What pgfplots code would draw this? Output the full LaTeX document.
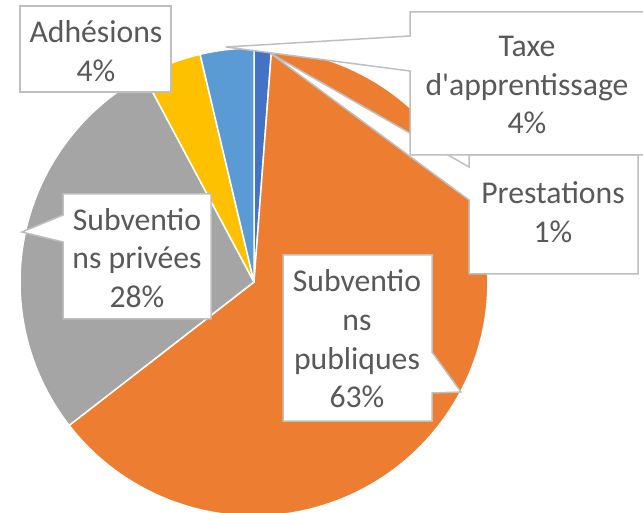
\documentclass[border=0pt]{standalone}
\usepackage{pgfplots}
\pgfplotsset{compat=1.18}
\usepackage{fontspec}
\setmainfont{Carlito}
\newfontfamily\calfont{Carlito}
\definecolor{cA}{HTML}{4472C4}
\definecolor{cB}{HTML}{ED7D31}
\definecolor{cC}{HTML}{A5A5A5}
\definecolor{cD}{HTML}{FFC000}
\definecolor{cE}{HTML}{5B9BD5}
\definecolor{txt}{HTML}{595959}
\definecolor{bx}{HTML}{BFBFBF}
% data (percent of total)
\def\vPrest{1.2}
\def\vPub{63.3}
\def\vPriv{27.7}
\def\vAdh{4.1}
\def\vTaxe{3.7}
\begin{document}
\begin{tikzpicture}
\pgfmathsetmacro\aA{3.6*\vPrest}
\pgfmathsetmacro\aB{\aA+3.6*\vPub}
\pgfmathsetmacro\aC{\aB+3.6*\vPriv}
\pgfmathsetmacro\aD{\aC+3.6*\vAdh}
\pgfmathsetmacro\aE{\aD+3.6*\vTaxe}
\begin{axis}[
  width=643pt, height=513pt, scale only axis,
  xmin=0, xmax=643, ymin=0, ymax=513, y dir=reverse,
  hide axis, clip=true,
  every axis plot/.append style={line width=1.5pt, draw=white, line join=round},
]
\addplot[fill=cA, domain=0:\aA, samples=10] ({254+234*sin(x)},{282-234*cos(x)}) -- (axis cs:254,282) -- cycle;
\addplot[fill=cB, domain=\aA:\aB, samples=120] ({254+234*sin(x)},{282-234*cos(x)}) -- (axis cs:254,282) -- cycle;
\addplot[fill=cC, domain=\aB:\aC, samples=60] ({254+234*sin(x)},{282-234*cos(x)}) -- (axis cs:254,282) -- cycle;
\addplot[fill=cD, domain=\aC:\aD, samples=15] ({254+234*sin(x)},{282-234*cos(x)}) -- (axis cs:254,282) -- cycle;
\addplot[fill=cE, domain=\aD:\aE, samples=15] ({254+234*sin(x)},{282-234*cos(x)}) -- (axis cs:254,282) -- cycle;

\tikzset{lab/.style={text=txt, align=center, inner sep=0pt, font=\calfont\fontsize{31.7}{38.6}\selectfont},
         co/.style={fill=white, draw=bx, line width=1.5pt, line join=miter}}
% Prestations
\draw[co] (axis cs:469,155) -- (axis cs:638,155) -- (axis cs:638,274) -- (axis cs:469,274) -- (axis cs:469,200) -- (axis cs:270,53) -- (axis cs:469,167) -- cycle;
\node[lab] at (axis cs:553,212) {Prestations\\1\%};
% Subventions publiques
\draw[co] (axis cs:283,255) -- (axis cs:432,255) -- (axis cs:432,352) -- (axis cs:461,392) -- (axis cs:432,393) -- (axis cs:432,421) -- (axis cs:283,421) -- cycle;
\node[lab] at (axis cs:357,339) {Subventio\\ns\\publiques\\63\%};
% Subventions privees
\draw[co] (axis cs:63,194) -- (axis cs:211,194) -- (axis cs:211,319) -- (axis cs:63,319) -- (axis cs:63,242) -- (axis cs:22,232) -- (axis cs:63,215) -- cycle;
\node[lab] at (axis cs:137,258) {Subventio\\ns privées\\28\%};
% Adhesions
\draw[co] (axis cs:20,6) -- (axis cs:171,6) -- (axis cs:171,92) -- (axis cs:20,92) -- cycle;
\node[lab] at (axis cs:96,51) {Adhésions\\4\%};
% Taxe d'apprentissage
\draw[co] (axis cs:410,12) -- (axis cs:660,12) -- (axis cs:660,155) -- (axis cs:410,155) -- (axis cs:410,71) -- (axis cs:226,47) -- (axis cs:410,36) -- cycle;
\node[lab] at (axis cs:527,85) {Taxe\\d'apprentissage\\4\%};
\end{axis}
\pgfresetboundingbox
\path[use as bounding box] (current axis.south west) rectangle (current axis.north east);
\end{tikzpicture}
\end{document}
